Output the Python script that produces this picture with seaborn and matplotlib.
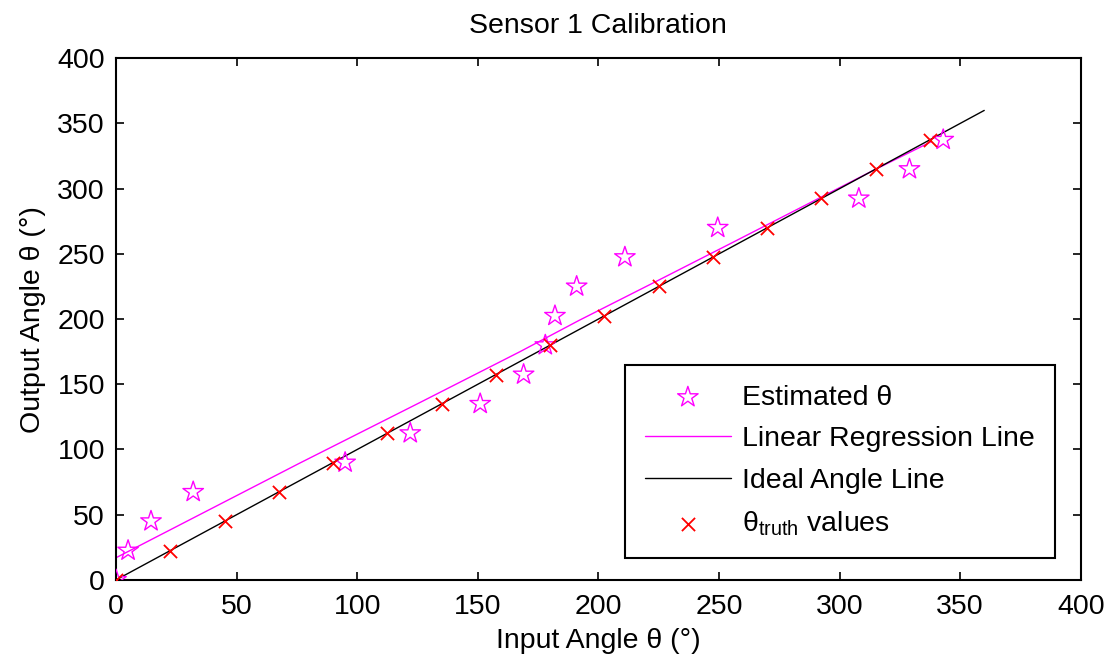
import matplotlib
matplotlib.use("Agg")
import matplotlib.pyplot as plt
import seaborn as sns
import pandas as pd

# ---- data ----
est_x = [0, 5, 14.5, 32, 95, 122, 151, 169, 178, 182, 191, 211, 249.5, 308, 329, 343]
est_y = [0, 22.5, 45, 67.5, 90, 112.5, 135, 157.5, 180, 202.5, 225, 247.5, 270, 292.5, 315, 337.5]

truth_x = [0, 22.5, 45, 67.5, 90, 112.5, 135, 157.5, 180, 202.5, 225, 247.5, 270, 292.5, 315, 337.5]
truth_y = [0, 22.5, 45, 67.5, 90, 112.5, 135, 157.5, 180, 202.5, 225, 247.5, 270, 292.5, 315, 337.5]

reg_x = [0, 76, 126, 167.5, 192, 222.6, 257, 314, 338]
reg_y = [17, 89.4, 136, 175, 199, 227.6, 260, 314, 336]

ideal_x = [0, 360]
ideal_y = [0, 360]

xticks = [0, 50, 100, 150, 200, 250, 300, 350, 400]
yticks = [0, 50, 100, 150, 200, 250, 300, 350, 400]

sns.set_theme(style="ticks")
plt.rcParams['font.family'] = ['Liberation Sans', 'DejaVu Sans']
plt.rcParams['mathtext.fontset'] = 'custom'
plt.rcParams['mathtext.rm'] = 'Liberation Sans'
plt.rcParams['mathtext.it'] = 'Liberation Sans:italic'
plt.rcParams['text.color'] = 'black'
plt.rcParams['axes.labelcolor'] = 'black'
plt.rcParams['xtick.color'] = 'black'
plt.rcParams['ytick.color'] = 'black'

FS = 20.5
fig = plt.figure(figsize=(11.05, 6.62), dpi=100)
ax = fig.add_axes([0.105, 0.124, 0.873, 0.788])

df_est = pd.DataFrame({"x": est_x, "y": est_y})
df_truth = pd.DataFrame({"x": truth_x, "y": truth_y})
df_reg = pd.DataFrame({"x": reg_x, "y": reg_y})
df_ideal = pd.DataFrame({"x": ideal_x, "y": ideal_y})

sns.scatterplot(data=df_est, x="x", y="y", ax=ax, marker="*", s=240,
                facecolors="none", edgecolor="#ff00ff", linewidth=1.0,
                label="Estimated \u03b8", zorder=3)
sns.lineplot(data=df_reg, x="x", y="y", ax=ax, color="#ff00ff", lw=1.0,
             sort=False, estimator=None, label="Linear Regression Line")
sns.lineplot(data=df_ideal, x="x", y="y", ax=ax, color="black", lw=1.0,
             sort=False, estimator=None, label="Ideal Angle Line")
sns.scatterplot(data=df_truth, x="x", y="y", ax=ax, marker="x", s=90,
                color="red", linewidth=1.3,
                label="\u03b8$_{\\mathrm{truth}}$ values", zorder=4)

ax.set_xlim(0, 400)
ax.set_ylim(0, 400)
ax.set_xticks(xticks)
ax.set_yticks(yticks)
ax.tick_params(direction="in", top=True, right=True, length=6, width=1.2,
               labelsize=FS, colors="black", pad=10)
ax.tick_params(axis="y", pad=8)
for sp in ax.spines.values():
    sp.set_visible(True)
    sp.set_linewidth(1.5)
    sp.set_color("black")

ax.set_xlabel("Input Angle \u03b8 (\u00b0)", fontsize=FS, labelpad=6, color="black")
ax.set_ylabel("Output Angle \u03b8 (\u00b0)", fontsize=FS, labelpad=8, color="black")
ax.set_title("Sensor 1 Calibration", fontsize=FS, pad=18, color="black")

leg = ax.legend(loc="lower right", bbox_to_anchor=(0.973, 0.042),
                fontsize=FS, frameon=True, fancybox=False, handlelength=3.0,
                handletextpad=0.4, labelspacing=0.55, borderpad=0.7,
                borderaxespad=0)
leg.get_frame().set_edgecolor("black")
leg.get_frame().set_linewidth(1.5)
leg.get_frame().set_alpha(1)

fig.savefig("out.png", dpi=100)
